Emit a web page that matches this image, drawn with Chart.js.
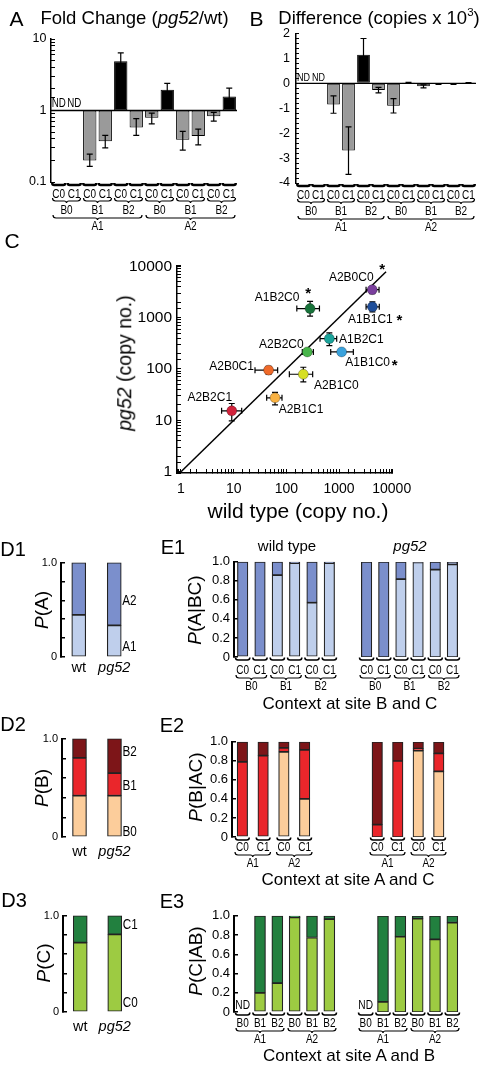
<!DOCTYPE html>
<html>
<head>
<meta charset="utf-8">
<script src="https://cdn.jsdelivr.net/npm/chart.js@4/dist/chart.umd.min.js"></script>
<style>
  body { margin: 0; background: #fff; width: 486px; height: 1066px; position: relative; overflow: hidden;
         font-family: "Liberation Sans", Arial, sans-serif; color: #000; }
  canvas { position: absolute; }
  .t { position: absolute; white-space: nowrap; line-height: 1; transform: translate(-50%, -50%); }
  .r { transform: translate(-50%, -50%) rotate(-90deg); }
  sup { font-size: 0.62em; position: relative; top: -0.2em; vertical-align: top; }
</style>
</head>
<body>
<script>
// ---- A & B: 12 contexts, A1(B0,B1,B2) then A2(B0,B1,B2), C0/C1 inside each ----
const siteC = ['C0', 'C1', 'C0', 'C1', 'C0', 'C1', 'C0', 'C1', 'C0', 'C1', 'C0', 'C1'];
const siteB = ['B0', 'B1', 'B2', 'B0', 'B1', 'B2'];
const siteA = ['A1', 'A2'];

const foldChange = [null, null, 0.20, 0.37, 4.9, 0.58, 0.79, 1.95, 0.39, 0.44, 0.83, 1.57];
const foldLow    = [null, null, 0.165, 0.30, 3.4, 0.45, 0.65, 1.5, 0.28, 0.33, 0.71, 1.1];
const foldHigh   = [null, null, 0.245, 0.45, 6.4, 0.77, 0.92, 2.4, 0.51, 0.55, 0.94, 2.05];

const diffCopies = [null, null, -0.85, -2.7, 1.15, -0.27, -0.9, 0.03, -0.12, -0.03, -0.03, 0.015];
const diffErr    = [null, null, 0.35, 0.95, 0.65, 0.11, 0.29, 0.01, 0.06, 0.01, 0.01, 0.01];

// ---- C: copy numbers, wild type vs pg52 ----
const contexts   = ['A2B0C0', 'A1B1C1', 'A1B2C0', 'A1B2C1', 'A1B1C0', 'A2B2C0', 'A2B0C1', 'A2B1C0', 'A2B1C1', 'A2B2C1'];
const wtCopies   = [4270, 4300, 282, 655, 1120, 250, 46, 210, 61, 9.2];
const wtLow      = [3260, 3260, 158, 436, 695, 201, 25.4, 114, 42.3, 5.9];
const wtHigh     = [5750, 5810, 425, 903, 1870, 326, 68.4, 316, 82.7, 14.2];
const pg52Copies = [3500, 1620, 1500, 390, 215, 215, 95, 79, 27.5, 15.3];
const pg52Low    = [2930, 1290, 1070, 286, 195, 185, 79, 56, 20, 9.8];
const pg52High   = [4070, 2020, 2080, 504, 235, 250, 113, 108, 35, 21.3];
const significant = [true, true, true, false, true, false, false, false, false, false];
const identityLine = [1, 7800];

// ---- D: marginal probabilities (wt, pg52) ----
const strains = ['wt', 'pg52'];
const pA1 = [0.447, 0.335];
const pA2 = [0.553, 0.665];
const pB0 = [0.42, 0.42];
const pB1 = [0.385, 0.23];
const pB2 = [0.195, 0.35];
const pC0 = [0.72, 0.805];
const pC1 = [0.28, 0.195];

// ---- E1: P(A|BC) ----
const e1C = ['C0', 'C1', 'C0', 'C1', 'C0', 'C1'];
const e1B = ['B0', 'B1', 'B2'];
const e1WtA1   = [0, 0, 0.86, 0.985, 0.57, 0.985];
const e1WtA2   = [1, 1, 0.14, 0.015, 0.43, 0.015];
const e1PgA1   = [0, 0, 0.82, 0.995, 0.92, 0.975];
const e1PgA2   = [1, 1, 0.18, 0.005, 0.08, 0.025];

// ---- E2: P(B|AC) ----
const e2C = ['C0', 'C1', 'C0', 'C1'];
const e2A = ['A1', 'A2'];
const e2WtB0 = [0, 0, 0.895, 0.40];
const e2WtB1 = [0.79, 0.855, 0.04, 0.515];
const e2WtB2 = [0.21, 0.145, 0.065, 0.085];
const e2PgB0 = [0, 0, 0.91, 0.69];
const e2PgB1 = [0.13, 0.80, 0.02, 0.19];
const e2PgB2 = [0.87, 0.20, 0.07, 0.12];

// ---- E3: P(C|AB) ----
const e3B = ['B0', 'B1', 'B2', 'B0', 'B1', 'B2'];
const e3A = ['A1', 'A2'];
const e3WtC0 = [null, 0.20, 0.30, 0.983, 0.774, 0.965];
const e3WtC1 = [null, 0.80, 0.70, 0.017, 0.226, 0.035];
const e3PgC0 = [null, 0.105, 0.784, 0.972, 0.756, 0.93];
const e3PgC1 = [null, 0.895, 0.216, 0.028, 0.244, 0.07];

// colours
const pointColors = ['#7a3f9d', '#1f4e9a', '#18733a', '#1aa39a', '#3aa2dc', '#48b54a', '#ef6a2a', '#d6df23', '#f8b142', '#d2233c'];
const labelOffsets = [[-21, -12], [-2, 13], [-33, -11], [32, 1], [26, 11], [-26, -7], [-37, -3], [33, 11], [26, 12], [-22, -13]];
const starOffsets = [[10, -20], [27, 14], [-2, -15], null, [53, 14], null, null, null, null, null];
const blueDark = '#7b8fcc', blueLight = '#bfcfec';
const peach = '#fccd9b', red = '#ea262b', darkRed = '#7d1518';
const greenLight = '#9dcb42', greenDark = '#22803f';

Chart.defaults.font.family = '"Liberation Sans", Arial, sans-serif';
Chart.defaults.color = '#000';
Chart.defaults.animation = false;
Chart.defaults.events = [];
Chart.defaults.maintainAspectRatio = false;
Chart.defaults.plugins.legend.display = false;
Chart.defaults.plugins.tooltip.enabled = false;

function txt(html, x, y, size, rot) {
    const d = document.createElement('div');
    d.className = 't' + (rot ? ' r' : '');
    d.style.left = x + 'px';
    d.style.top = y + 'px';
    d.style.fontSize = size + 'px';
    d.innerHTML = html;
    document.body.appendChild(d);
}

function narrowText(ctx, s, x, y, size, sx, align) {
    ctx.save();
    ctx.font = size + 'px "Liberation Sans", Arial, sans-serif';
    ctx.fillStyle = '#000';
    ctx.textAlign = align || 'center';
    ctx.textBaseline = 'middle';
    ctx.translate(x, y);
    ctx.scale(sx, 1);
    ctx.fillText(s, 0, 0);
    ctx.restore();
}

function makeCanvas(area, m) {
    const c = document.createElement('canvas');
    c.width = Math.round(area.r - area.l + m.l + m.r);
    c.height = Math.round(area.b - area.t + m.t + m.b);
    c.style.left = (area.l - m.l) + 'px';
    c.style.top = (area.t - m.t) + 'px';
    document.body.appendChild(c);
    return c;
}

// create a chart, then resize / shift its canvas so the plot area lands on `area`
function build(area, m, config) {
    const chart = new Chart(makeCanvas(area, m), config);
    let ca = chart.chartArea;
    const w = chart.width + (area.r - area.l) - (ca.right - ca.left);
    const h = chart.height + (area.b - area.t) - (ca.bottom - ca.top);
    chart.resize(Math.round(w), Math.round(h));
    ca = chart.chartArea;
    chart.canvas.style.left = (area.l - ca.left) + 'px';
    chart.canvas.style.top = (area.t - ca.top) + 'px';
    return chart;
}

function layoutFor(m, yShown, xShown) {
    return { padding: { left: yShown ? 0 : m.l, top: m.t, right: m.r, bottom: xShown ? 0 : m.b } };
}

function isDecade(v) {
    const l = Math.log10(v);
    return Math.abs(l - Math.round(l)) < 1e-6;
}

// horizontal reference line (1 for fold change, 0 for difference)
const baselinePlugin = {
    id: 'baseline',
    afterDatasetsDraw(chart, args, o) {
        if (o.value === undefined) return;
        const { ctx, chartArea: ca } = chart;
        const py = chart.scales.y.getPixelForValue(o.value);
        ctx.save();
        ctx.strokeStyle = '#000';
        ctx.lineWidth = 1.3;
        ctx.beginPath();
        ctx.moveTo(ca.left, py);
        ctx.lineTo(ca.right, py);
        ctx.stroke();
        ctx.restore();
    }
};

const errBarPlugin = {
    id: 'errbars',
    afterDatasetsDraw(chart, args, o) {
        if (!o.lo) return;
        const { ctx } = chart;
        const ys = chart.scales.y;
        const bars = chart.getDatasetMeta(0).data;
        ctx.save();
        ctx.strokeStyle = '#000';
        ctx.lineWidth = 1.2;
        o.lo.forEach((lo, i) => {
            if (lo == null) return;
            const x = bars[i].x;
            const y0 = ys.getPixelForValue(lo), y1 = ys.getPixelForValue(o.hi[i]);
            ctx.beginPath();
            ctx.moveTo(x, y0); ctx.lineTo(x, y1);
            ctx.moveTo(x - 3, y0); ctx.lineTo(x + 3, y0);
            ctx.moveTo(x - 3, y1); ctx.lineTo(x + 3, y1);
            ctx.stroke();
        });
        ctx.restore();
    }
};

const xyErrPlugin = {
    id: 'xyErr',
    beforeDatasetsDraw(chart, args, o) {
        if (!o.xlo) return;
        const { ctx, scales: { x: xs, y: ys } } = chart;
        ctx.save();
        ctx.strokeStyle = '#000';
        ctx.lineWidth = 1.2;
        o.xlo.forEach((_, i) => {
            const px = xs.getPixelForValue(o.xv[i]), py = ys.getPixelForValue(o.yv[i]);
            const xa = xs.getPixelForValue(o.xlo[i]), xb = xs.getPixelForValue(o.xhi[i]);
            const ya = ys.getPixelForValue(o.ylo[i]), yb = ys.getPixelForValue(o.yhi[i]);
            ctx.beginPath();
            ctx.moveTo(xa, py); ctx.lineTo(xb, py);
            ctx.moveTo(xa, py - 3); ctx.lineTo(xa, py + 3);
            ctx.moveTo(xb, py - 3); ctx.lineTo(xb, py + 3);
            ctx.moveTo(px, ya); ctx.lineTo(px, yb);
            ctx.moveTo(px - 3, ya); ctx.lineTo(px + 3, ya);
            ctx.moveTo(px - 3, yb); ctx.lineTo(px + 3, yb);
            ctx.stroke();
        });
        ctx.restore();
    }
};

const pointLabelPlugin = {
    id: 'ptLabels',
    afterDatasetsDraw(chart, args, o) {
        if (!o.names) return;
        const { ctx } = chart;
        const pts = chart.getDatasetMeta(0).data;
        ctx.save();
        ctx.fillStyle = '#000';
        ctx.textAlign = 'center';
        ctx.textBaseline = 'middle';
        o.names.forEach((n, i) => {
            const p = pts[i];
            ctx.font = '12px "Liberation Sans", Arial, sans-serif';
            ctx.fillText(n, p.x + o.offsets[i][0], p.y + o.offsets[i][1]);
            if (o.stars[i]) {
                ctx.font = 'bold 15px "Liberation Sans", Arial, sans-serif';
                ctx.fillText('*', p.x + o.stars[i][0], p.y + o.stars[i][1]);
            }
        });
        ctx.restore();
    }
};

const ndPlugin = {
    id: 'nd',
    afterDatasetsDraw(chart, args, o) {
        if (!o.idx) return;
        const xs = chart.scales.x, ys = chart.scales.y;
        o.idx.forEach(i => narrowText(chart.ctx, 'ND', xs.getPixelForValue(i), ys.getPixelForValue(o.value) + o.dy, o.size, 0.78));
    }
};

const segLabelPlugin = {
    id: 'segLabels',
    afterDatasetsDraw(chart, args, o) {
        if (!o.items) return;
        const bar = chart.getDatasetMeta(0).data[1];
        const x = bar.x + bar.width / 2 + 1;
        o.items.forEach(it => narrowText(chart.ctx, it.t, x, chart.scales.y.getPixelForValue(it.v), 15, 0.78, 'left'));
    }
};

// bracket rows drawn under the category axis
const bracketPlugin = {
    id: 'brackets',
    afterDraw(chart, args, o) {
        if (!o.rows) return;
        const { ctx, chartArea: ca } = chart;
        const xs = chart.scales.x;
        const step = xs.getPixelForValue(1) - xs.getPixelForValue(0);
        ctx.save();
        ctx.strokeStyle = '#000';
        o.rows.forEach(row => {
            row.labels.forEach((lab, g) => {
                const i0 = g * row.span, i1 = i0 + row.span - 1;
                const x0 = xs.getPixelForValue(i0) - step / 2 + row.inset;
                const x1 = xs.getPixelForValue(i1) + step / 2 - row.inset;
                const xm = (x0 + x1) / 2;
                const yb = ca.bottom + row.line;
                const h = row.h;
                ctx.lineWidth = row.w;
                ctx.beginPath();
                ctx.moveTo(x0, yb - h);
                ctx.quadraticCurveTo(x0, yb, x0 + h, yb);
                if (row.brace) {
                    ctx.lineTo(xm - 2.5, yb);
                    ctx.quadraticCurveTo(xm, yb, xm, yb + 2);
                    ctx.quadraticCurveTo(xm, yb, xm + 2.5, yb);
                }
                ctx.lineTo(x1 - h, yb);
                ctx.quadraticCurveTo(x1, yb, x1, yb - h);
                ctx.stroke();
                narrowText(ctx, lab, xm, ca.bottom + row.text, 12.5, 0.8);
            });
        });
        ctx.restore();
    }
};

Chart.register(baselinePlugin, errBarPlugin, xyErrPlugin, pointLabelPlugin, ndPlugin, segLabelPlugin, bracketPlugin);

const rowsAB = [
    { labels: siteC, span: 1, line: 3, text: 12.5, w: 2.4, h: 2, inset: 1.2 },
    { labels: siteB, span: 2, line: 19, text: 29, w: 1.2, h: 3, inset: 1.5, brace: true },
    { labels: siteA, span: 6, line: 36, text: 45, w: 1.2, h: 3, inset: 2, brace: true }
];

function logAxis(m, size, pad) {
    return {
        type: 'logarithmic',
        afterFit: s => { s.width = m.l; },
        border: { color: '#000', width: 1.5 },
        grid: { drawOnChartArea: false, tickLength: -4, color: '#000' },
        ticks: { autoSkip: false, maxRotation: 0, minRotation: 0, padding: pad, font: { size: size },
                 callback: v => isDecade(v) ? String(v) : '' }
    };
}

// ---- Panel A ----
const mA = { l: 51, t: 10, r: 3, b: 53 };
build({ l: 51, t: 39, r: 237, b: 182 }, mA, {
    type: 'bar',
    data: {
        labels: siteC,
        datasets: [{
            data: foldChange.map(v => v == null ? null : [1, v]),
            backgroundColor: foldChange.map(v => v > 1 ? '#000' : '#9a9a9a'),
            borderColor: '#000', borderWidth: 1, borderSkipped: false,
            barPercentage: 0.86, categoryPercentage: 1
        }]
    },
    options: {
        responsive: false,
        layout: layoutFor(mA, true, false),
        scales: {
            x: { display: false },
            y: Object.assign(logAxis(mA, 12.5, 8.5), { min: 0.1, max: 10 })
        },
        plugins: {
            baseline: { value: 1 },
            errbars: { lo: foldLow, hi: foldHigh },
            nd: { idx: [0, 1], value: 1, dy: -6.5, size: 12.5 },
            brackets: { rows: rowsAB }
        }
    }
});

// ---- Panel B ----
const mB = { l: 40, t: 10, r: 10, b: 53 };
build({ l: 296, t: 33, r: 476, b: 182 }, mB, {
    type: 'bar',
    data: {
        labels: siteC,
        datasets: [{
            data: diffCopies,
            backgroundColor: diffCopies.map(v => v > 0 ? '#000' : '#9a9a9a'),
            borderColor: '#000', borderWidth: 1, borderSkipped: false,
            barPercentage: 0.85, categoryPercentage: 1
        }]
    },
    options: {
        responsive: false,
        layout: layoutFor(mB, true, false),
        scales: {
            x: { display: false },
            y: {
                min: -4, max: 2,
                afterFit: s => { s.width = mB.l; },
                border: { color: '#000', width: 1.5 },
                grid: { drawOnChartArea: false, tickLength: -3, color: '#000' },
                ticks: {
                    stepSize: 0.2, autoSkip: false, padding: 9, font: { size: 12.5 },
                    callback: v => Math.abs(v - Math.round(v)) < 1e-6 ? String(Math.round(v)) : ''
                }
            }
        },
        plugins: {
            baseline: { value: 0 },
            errbars: {
                lo: diffCopies.map((v, i) => v == null ? null : v - diffErr[i]),
                hi: diffCopies.map((v, i) => v == null ? null : v + diffErr[i])
            },
            nd: { idx: [0, 1], value: 0, dy: -5.5, size: 11.5 },
            brackets: { rows: rowsAB }
        }
    }
});

// ---- Panel C ----
const mC = { l: 50, t: 10, r: 94, b: 30 };
const cx = logAxis(mC, 14, 0);
cx.afterFit = s => { s.height = mC.b; };
cx.ticks.padding = 12;
build({ l: 177, t: 265, r: 392, b: 473 }, mC, {
    type: 'scatter',
    data: {
        datasets: [
            {
                data: wtCopies.map((x, i) => ({ x: x, y: pg52Copies[i] })),
                pointRadius: 5,
                pointBackgroundColor: pointColors,
                pointBorderColor: 'rgba(0,0,0,0.35)',
                pointBorderWidth: 0.8
            },
            {
                data: identityLine.map(v => ({ x: v, y: v })),
                showLine: true, pointRadius: 0, borderColor: '#000', borderWidth: 1.5
            }
        ]
    },
    options: {
        responsive: false,
        layout: layoutFor(mC, true, true),
        scales: {
            x: Object.assign(cx, { min: 0.84, max: 10130 }),
            y: Object.assign(logAxis(mC, 15.5, 9), { min: 0.943, max: 10450 })
        },
        plugins: {
            xyErr: { xv: wtCopies, yv: pg52Copies, xlo: wtLow, xhi: wtHigh, ylo: pg52Low, yhi: pg52High },
            ptLabels: { names: contexts, offsets: labelOffsets, stars: starOffsets.map((s, i) => significant[i] ? s : null) }
        }
    }
});

// ---- stacked probability panels ----
function stackChart(area, m, labels, sets, o) {
    return build(area, m, {
        type: 'bar',
        data: {
            labels: labels,
            datasets: sets.map(s => ({
                data: s.data, backgroundColor: s.color,
                borderColor: '#222', borderWidth: 1.2, borderSkipped: false,
                barThickness: o.bar
            }))
        },
        options: {
            responsive: false,
            layout: layoutFor(m, o.yAxis, o.xTicks),
            scales: {
                x: {
                    stacked: true, display: !!o.xTicks,
                    grid: { display: false, drawTicks: false }, border: { display: false },
                    afterFit: s => { if (o.xTicks) s.height = m.b; },
                    ticks: { autoSkip: false, maxRotation: 0, minRotation: 0, padding: o.xPad || 3,
                             font: c => ({ size: 14.5, style: c.index === 1 ? 'italic' : 'normal' }) }
                },
                y: {
                    stacked: true, min: 0, max: 1, display: o.yAxis,
                    afterFit: s => { if (o.yAxis) s.width = m.l; },
                    border: { color: '#000', width: 2 },
                    grid: { drawOnChartArea: false, tickLength: -4, color: '#000', lineWidth: 1.5 },
                    ticks: { stepSize: 0.2, autoSkip: false, padding: 8, font: { size: o.tickSize || 13 }, callback: o.fmt }
                }
            },
            plugins: o.plugins || {}
        }
    });
}

const dFmt = v => v === 0 ? '0' : (Math.abs(v - 1) < 1e-9 ? '1.0' : '');
const eFmt = v => v === 0 ? '0' : v.toFixed(1);

// D1-D3
stackChart({ l: 61, t: 563, r: 132, b: 657 }, { l: 40, t: 10, r: 30, b: 22 }, strains,
    [{ data: pA1, color: blueLight }, { data: pA2, color: blueDark }],
    { bar: 14, yAxis: true, xTicks: true, xPad: 2, tickSize: 11, fmt: dFmt,
      plugins: { segLabels: { items: [{ t: 'A2', v: 0.6 }, { t: 'A1', v: 0.11 }] } } });
stackChart({ l: 62, t: 739, r: 132, b: 837 }, { l: 40, t: 10, r: 30, b: 26 }, strains,
    [{ data: pB0, color: peach }, { data: pB1, color: red }, { data: pB2, color: darkRed }],
    { bar: 14, yAxis: true, xTicks: true, xPad: 6, tickSize: 11, fmt: dFmt,
      plugins: { segLabels: { items: [{ t: 'B2', v: 0.87 }, { t: 'B1', v: 0.52 }, { t: 'B0', v: 0.05 }] } } });
stackChart({ l: 63, t: 916, r: 132, b: 1012 }, { l: 40, t: 10, r: 30, b: 26 }, strains,
    [{ data: pC0, color: greenLight }, { data: pC1, color: greenDark }],
    { bar: 14, yAxis: true, xTicks: true, xPad: 6, tickSize: 11, fmt: dFmt,
      plugins: { segLabels: { items: [{ t: 'C1', v: 0.9 }, { t: 'C0', v: 0.09 }] } } });

// E1
const rowsE1 = [
    { labels: e1C, span: 1, line: 3, text: 14, w: 1.5, h: 2.5, inset: 1.5 },
    { labels: e1B, span: 2, line: 21, text: 30, w: 1.2, h: 3, inset: 2, brace: true }
];
stackChart({ l: 233.5, t: 562, r: 337.5, b: 657 }, { l: 42, t: 10, r: 2, b: 40 }, e1C,
    [{ data: e1WtA1, color: blueLight }, { data: e1WtA2, color: blueDark }],
    { bar: 10.5, yAxis: true, fmt: eFmt, plugins: { brackets: { rows: rowsE1 } } });
stackChart({ l: 358.2, t: 562, r: 461.6, b: 657 }, { l: 2, t: 10, r: 2, b: 40 }, e1C,
    [{ data: e1PgA1, color: blueLight }, { data: e1PgA2, color: blueDark }],
    { bar: 10.5, yAxis: false, fmt: eFmt, plugins: { brackets: { rows: rowsE1 } } });

// E2
const rowsE2 = [
    { labels: e2C, span: 1, line: 3, text: 11, w: 1.5, h: 2.5, inset: 3.5 },
    { labels: e2A, span: 2, line: 18, text: 27, w: 1.2, h: 3, inset: 3, brace: true }
];
stackChart({ l: 231.5, t: 742, r: 314.3, b: 837 }, { l: 42, t: 10, r: 2, b: 36 }, e2C,
    [{ data: e2WtB0, color: peach }, { data: e2WtB1, color: red }, { data: e2WtB2, color: darkRed }],
    { bar: 10.5, yAxis: true, fmt: eFmt, plugins: { brackets: { rows: rowsE2 } } });
stackChart({ l: 367.1, t: 742, r: 448.7, b: 837 }, { l: 2, t: 10, r: 2, b: 36 }, e2C,
    [{ data: e2PgB0, color: peach }, { data: e2PgB1, color: red }, { data: e2PgB2, color: darkRed }],
    { bar: 10.5, yAxis: false, fmt: eFmt, plugins: { brackets: { rows: rowsE2 } } });

// E3
const rowsE3 = [
    { labels: e3B, span: 1, line: 3, text: 12, w: 1.5, h: 2.5, inset: 1.5 },
    { labels: e3A, span: 3, line: 19, text: 28, w: 1.2, h: 3, inset: 2, brace: true }
];
stackChart({ l: 233.5, t: 916, r: 337.5, b: 1012 }, { l: 42, t: 10, r: 2, b: 36 }, e3B,
    [{ data: e3WtC0, color: greenLight }, { data: e3WtC1, color: greenDark }],
    { bar: 11, yAxis: true, fmt: eFmt,
      plugins: { brackets: { rows: rowsE3 }, nd: { idx: [0], value: 0, dy: -6.5, size: 13 } } });
stackChart({ l: 357.3, t: 916, r: 461.4, b: 1012 }, { l: 2, t: 10, r: 2, b: 36 }, e3B,
    [{ data: e3PgC0, color: greenLight }, { data: e3PgC1, color: greenDark }],
    { bar: 11, yAxis: false, fmt: eFmt,
      plugins: { brackets: { rows: rowsE3 }, nd: { idx: [0], value: 0, dy: -6.5, size: 13 } } });

// ---- text ----
txt('A', 16.5, 17.5, 21);
txt('Fold Change (<i>pg52</i>/wt)', 134.5, 18, 18.5);
txt('B', 256.5, 17.5, 21);
txt('Difference (copies x 10<sup>3</sup>)', 379, 18, 18.5);
txt('C', 12, 240, 21);
txt('<i>pg52</i> (copy no.)', 125, 363, 19.5, true);
txt('wild type (copy no.)', 298, 510, 21);
txt('D1', 13, 549, 20);
txt('D2', 13, 724, 20);
txt('D3', 14, 900, 20);
txt('E1', 173, 547, 20);
txt('E2', 172, 725, 20);
txt('E3', 172, 901, 20);
txt('<i>P</i>(A)', 41, 610, 19, true);
txt('<i>P</i>(B)', 41, 788, 19, true);
txt('<i>P</i>(C)', 42.5, 963, 19, true);
txt('<i>P</i>(A|BC)', 194, 610, 19, true);
txt('<i>P</i>(B|AC)', 195, 787, 19, true);
txt('<i>P</i>(C|AB)', 195, 961, 19, true);
txt('wild type', 287, 545, 15);
txt('<i>pg52</i>', 410, 545, 15);
txt('Context at site B and C', 350, 703, 17);
txt('Context at site A and C', 348, 879, 17);
txt('Context at site A and B', 349, 1055, 17);
</script>
</body>
</html>
